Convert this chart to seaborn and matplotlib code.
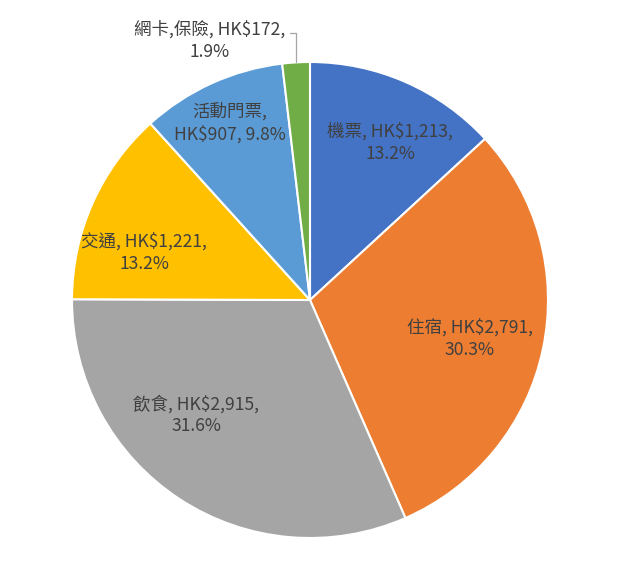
import numpy as np
import matplotlib
matplotlib.use("Agg")
import matplotlib.pyplot as plt
import seaborn as sns

sns.set_theme(style="white")
plt.rcParams['font.family'] = ['Noto Sans CJK TC', 'DejaVu Sans']

categories = ["機票", "住宿", "飲食", "交通", "活動門票", "網卡,保險"]
amounts = [1213, 2791, 2915, 1221, 907, 172]
colors = ["#4472C4", "#ED7D31", "#A5A5A5", "#FFC000", "#5B9BD5", "#70AD47"]
# label text layout (line breaks) and label centres in pixels of the figure
label_lines = [
    "{c}, HK${v:,},\n{p:.1f}%",
    "{c}, HK${v:,},\n{p:.1f}%",
    "{c}, HK${v:,},\n{p:.1f}%",
    "{c}, HK${v:,},\n{p:.1f}%",
    "{c},\nHK${v:,}, {p:.1f}%",
    "{c}, HK${v:,},\n{p:.1f}%",
]
label_px = [(390, 143), (470, 339), (196, 415), (144, 253), (230, 123), (210, 41)]

W, H = 620, 582
CX, CY, R = 310, 300, 238

fig = plt.figure(figsize=(W / 100, H / 100), dpi=100)
ax = fig.add_axes([0, 0, 1, 1])

wedges, _ = ax.pie(amounts, colors=colors, startangle=90, counterclock=False,
                   radius=1.0, wedgeprops=dict(edgecolor='white', linewidth=1.5))
ax.set_xlim(-CX / R, (W - CX) / R)
ax.set_ylim(-(H - CY) / R, CY / R)
ax.set_aspect('auto')
ax.axis('off')

total = sum(amounts)
for i, (c, v) in enumerate(zip(categories, amounts)):
    p = v / total * 100
    txt = label_lines[i].format(c=c, v=v, p=p)
    px, py = label_px[i]
    ax.text((px - CX) / R, (CY - py) / R, txt, ha='center', va='center',
            fontsize=12.6, color='#404040', linespacing=1.3, multialignment='center')

# leader line for the small slice
w = wedges[-1]
mid = np.deg2rad((w.theta1 + w.theta2) / 2)
ax_x, ax_y = np.cos(mid), np.sin(mid)
ly = (CY - 33) / R
lx_end = (290 - CX) / R
ax.plot([ax_x, ax_x, lx_end], [ax_y, ly, ly], color='#A6A6A6', lw=0.9)

fig.savefig("out.png", dpi=100, facecolor='white')
